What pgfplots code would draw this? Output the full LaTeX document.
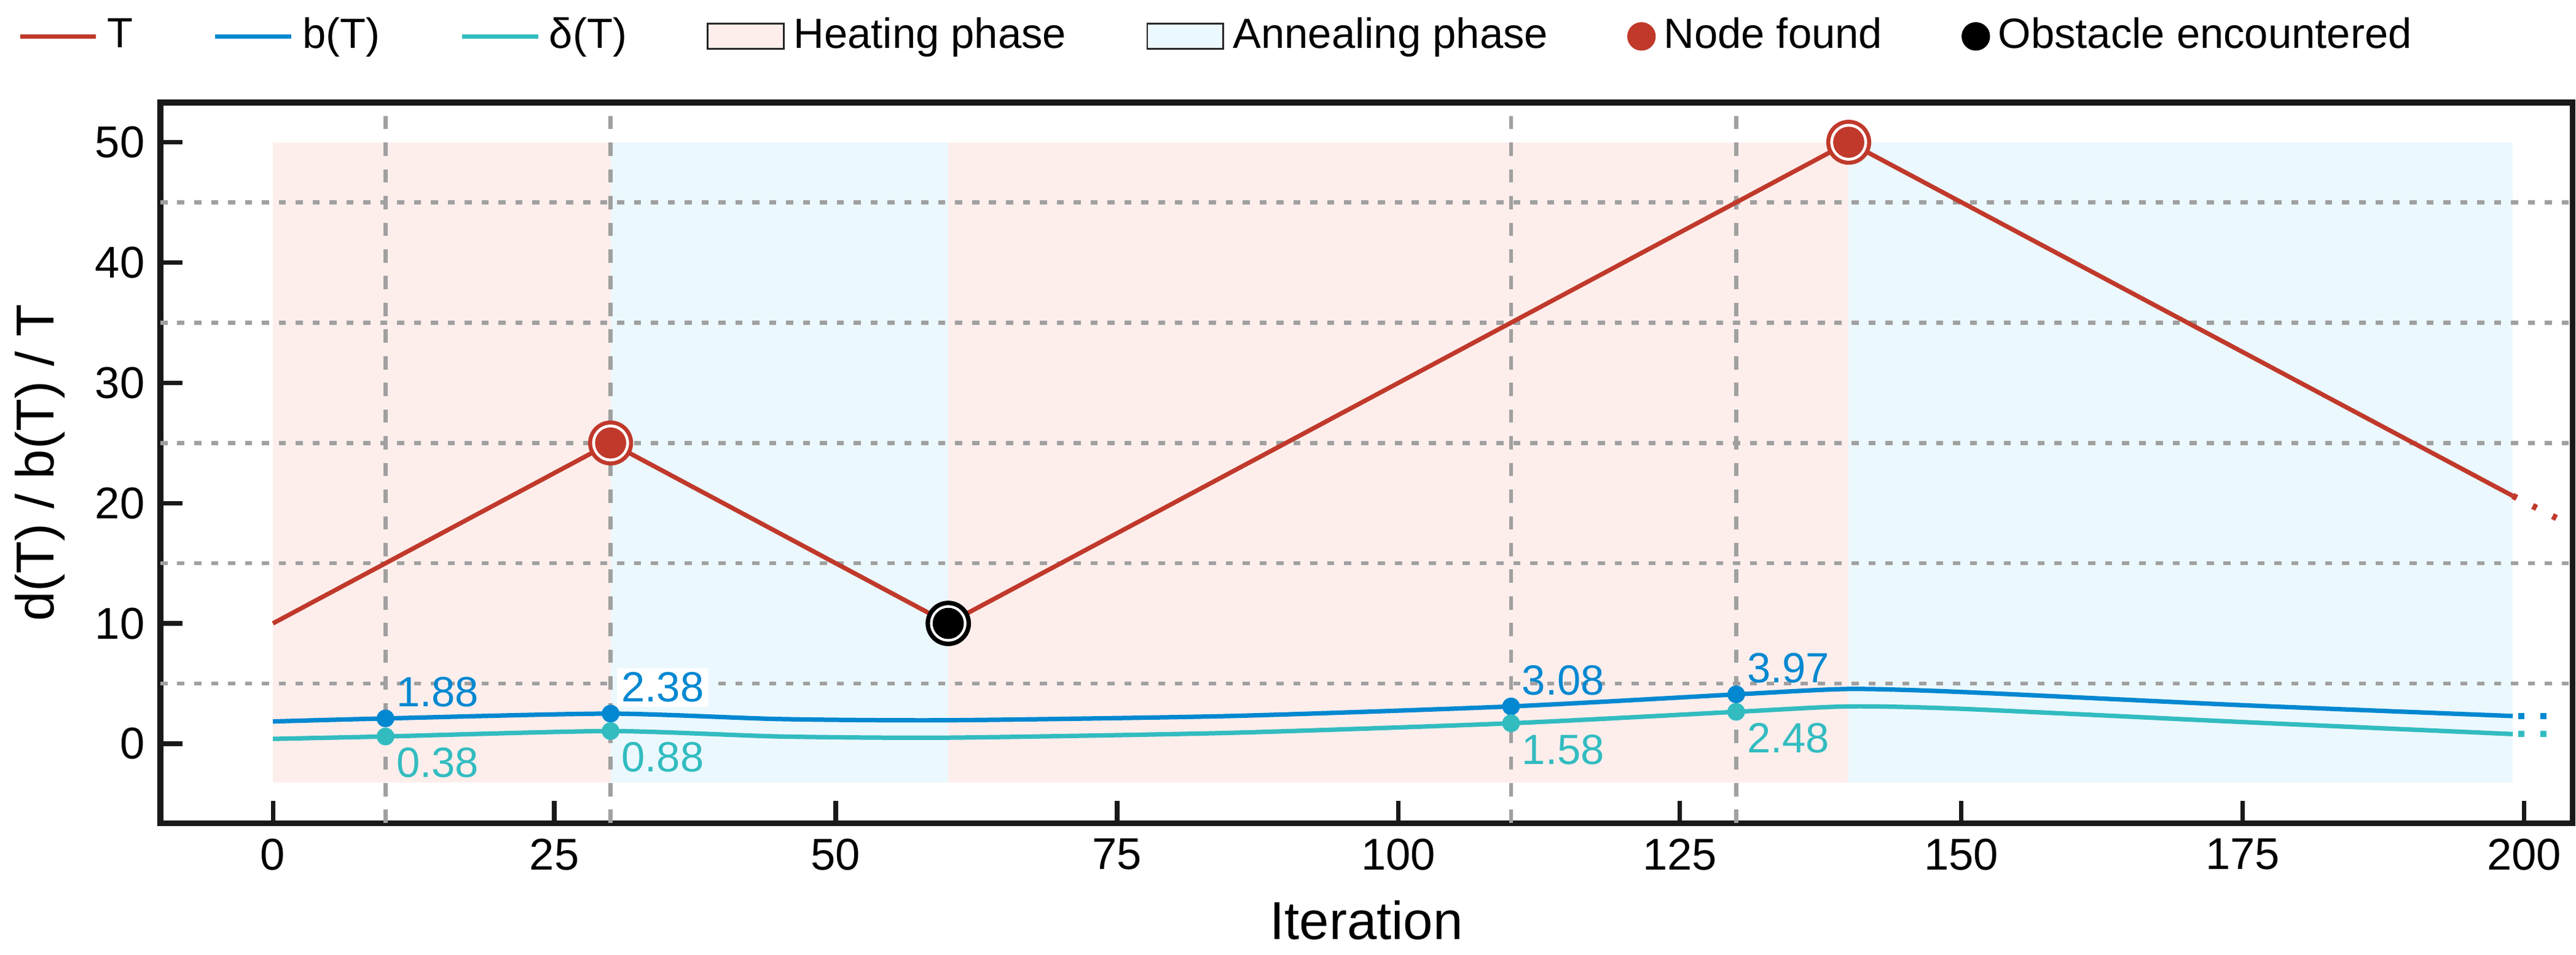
\documentclass[border=0pt]{standalone}
\usepackage{pgfplots}
\pgfplotsset{compat=1.18}
\usepackage{fontspec}
\setmainfont{Liberation Sans}
\definecolor{cT}{HTML}{C0392B}
\definecolor{cB}{HTML}{0288D1}
\definecolor{cD}{HTML}{32BCC0}
\definecolor{heat}{HTML}{FDEEEC}
\definecolor{anneal}{HTML}{EBF8FE}
\definecolor{gridc}{HTML}{A0A0A0}
\begin{document}
\begin{tikzpicture}
\begin{axis}[
  width=542pt, height=162pt, scale only axis,
  xmin=-10, xmax=204.3, ymin=-6.6, ymax=53.3,
  xtick={0,25,...,200}, ytick={0,10,...,50},
  axis line style={line width=1.3pt, black!90},
  tick style={black!90, line width=1pt}, tick align=inside, major tick length=5pt,
  xtick pos=bottom, ytick pos=left,
  /pgf/number format/assume math mode=true,
  tick label style={font=\fontsize{10}{12}\selectfont},
  xlabel={Iteration}, ylabel={d(T) / b(T) / T},
  label style={font=\fontsize{12}{14}\selectfont},
  legend style={at={(-0.065,1.04)}, anchor=south west, draw=none, fill=none,
     legend columns=7, font=\fontsize{9.5}{11}\selectfont,
     /tikz/every even column/.append style={column sep=16pt}},
  legend cell align=left,
  clip=false,
]
% shading
\fill[heat] (axis cs:0,-3.2) rectangle (axis cs:30,50);
\fill[anneal] (axis cs:30,-3.2) rectangle (axis cs:60,50);
\fill[heat] (axis cs:60,-3.2) rectangle (axis cs:140,50);
\fill[anneal] (axis cs:140,-3.2) rectangle (axis cs:199,50);
% horizontal dotted grid
\foreach \yy in {5,15,25,35,45}{
  \edef\tmp{\noexpand\draw[gridc, line width=0.9pt, dash pattern=on 1.6pt off 2.2pt] (axis cs:-10,\yy) -- (axis cs:204.3,\yy);}\tmp }
% vertical dashed
\foreach \xx in {10,30,110,130}{
  \edef\tmp{\noexpand\draw[gridc, line width=0.9pt, dash pattern=on 3pt off 3pt] (axis cs:\xx,-6.6) -- (axis cs:\xx,53.3);}\tmp }
\addlegendimage{cT, line width=1pt}\addlegendentry{T}
\addlegendimage{cB, line width=1pt}\addlegendentry{b(T)}
\addlegendimage{cD, line width=1pt}\addlegendentry{δ(T)}
\addlegendimage{area legend, draw=black!85, fill=heat}\addlegendentry{Heating phase}
\addlegendimage{area legend, draw=black!85, fill=anneal}\addlegendentry{Annealing phase}
\addlegendimage{only marks, mark=*, mark size=3pt, draw=cT, fill=cT}\addlegendentry{Node found}
\addlegendimage{only marks, mark=*, mark size=3pt, black}\addlegendentry{Obstacle encountered}
% T
\addplot[cT, line width=1pt, forget plot] coordinates {(0,10) (30,25) (60,10) (140,50) (199,20.6)};
\addplot[cT, line width=1.4pt, dash pattern=on 1pt off 4pt, forget plot] coordinates {(199,20.6) (203,18.7)};
% b
\addplot[cB, line width=1pt, smooth, tension=0.4, forget plot] coordinates {(0,1.85) (10,2.1) (30,2.5) (45,2.05) (60,1.95) (85,2.3) (110,3.1) (130,4.1) (140,4.55) (150,4.3) (175,3.2) (199,2.3)};
\addplot[cB, line width=1.4pt, dash pattern=on 1.4pt off 3.5pt, forget plot] coordinates {(199.5,2.3) (203,2.3)};
% delta
\addplot[cD, line width=1pt, smooth, tension=0.4, forget plot] coordinates {(0,0.4) (10,0.6) (30,1.05) (45,0.6) (60,0.5) (85,0.9) (110,1.7) (130,2.65) (140,3.1) (150,2.9) (175,1.8) (199,0.8)};
\addplot[cD, line width=1.4pt, dash pattern=on 1.4pt off 3.5pt, forget plot] coordinates {(199.5,0.8) (203,0.8)};
% points
\addplot[only marks, mark=*, mark size=1.8pt, cB, forget plot] coordinates {(10,2.1) (30,2.5) (110,3.1) (130,4.1)};
\addplot[only marks, mark=*, mark size=1.8pt, cD, forget plot] coordinates {(10,0.6) (30,1.05) (110,1.7) (130,2.65)};
% special markers
\addplot[only marks, mark=*, mark size=4.6pt, draw=cT, fill=white, mark options={line width=0.9pt}, forget plot] coordinates {(30,25) (140,50)};
\addplot[only marks, mark=*, mark size=3.3pt, draw=cT, fill=cT, forget plot] coordinates {(30,25) (140,50)};
\addplot[only marks, mark=*, mark size=4.6pt, draw=black, fill=white, mark options={line width=1pt}, forget plot] coordinates {(60,10)};
\addplot[only marks, mark=*, mark size=3.3pt, black, forget plot] coordinates {(60,10)};
% labels
\foreach \xx/\yy/\ll in {10.5/2.6/1.88, 110.5/3.6/3.08, 130.5/4.6/3.97}{
  \edef\tmp{\noexpand\node[cB, anchor=south west, font=\noexpand\fontsize{9.5}{11}\noexpand\selectfont, inner sep=1pt] at (axis cs:\xx,\yy) {\ll};}\tmp }
\node[cB, anchor=south west, font=\fontsize{9.5}{11}\selectfont, inner sep=1pt, fill=white] at (axis cs:30.5,3.0) {2.38};
\foreach \xx/\yy/\ll in {10.5/0.1/0.38, 30.5/0.55/0.88, 110.5/1.2/1.58, 130.5/2.15/2.48}{
  \edef\tmp{\noexpand\node[cD, anchor=north west, font=\noexpand\fontsize{9.5}{11}\noexpand\selectfont, inner sep=1pt] at (axis cs:\xx,\yy) {\ll};}\tmp }
\end{axis}
\end{tikzpicture}
\end{document}
